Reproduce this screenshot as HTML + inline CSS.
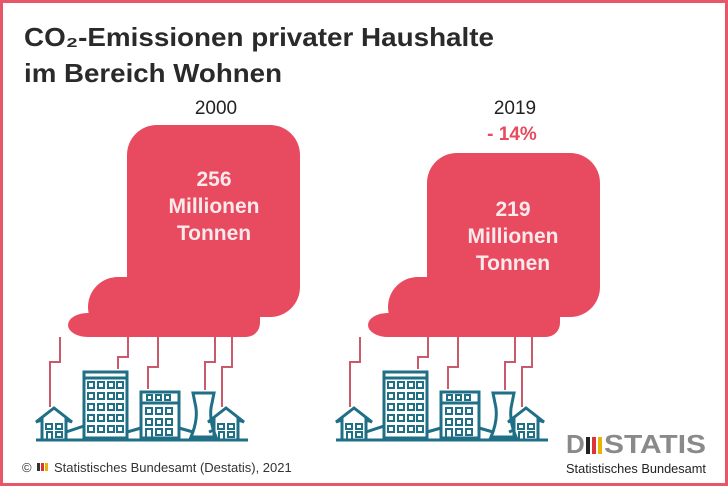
<!DOCTYPE html>
<html><head><meta charset="utf-8"><style>
body{margin:0;background:#fff}
#c{position:relative;width:728px;height:486px;overflow:hidden;font-family:"Liberation Sans",sans-serif}
svg{position:absolute;left:0;top:0}
</style></head><body><div id="c">
<svg width="728" height="486" viewBox="0 0 728 486">
<rect x="1.5" y="1.5" width="725" height="483" fill="#fff" stroke="#e8566a" stroke-width="3"/>
<text x="24" y="46" font-size="26" font-weight="bold" fill="#2a2a2a" textLength="470" lengthAdjust="spacingAndGlyphs">CO₂-Emissionen privater Haushalte</text>
<text x="24" y="82" font-size="26" font-weight="bold" fill="#2a2a2a" textLength="258" lengthAdjust="spacingAndGlyphs">im Bereich Wohnen</text>
<defs>
<g id="city" fill="none" stroke="#1f6f86" stroke-width="3">
<rect x="84" y="372" width="43" height="66"/>
<line x1="84" y1="378" x2="127" y2="378"/>
<rect x="141" y="392" width="38" height="46"/>
<rect x="141" y="392" width="38" height="11"/>
<path d="M193 393 h21 l-2 10 q-4 15 4 34 h-25 q8-19 4-34z"/>
<path d="M42 440 v-20 l-6 2 l18-14 l18 14 l-6-2 v20 M214 440 v-20 l-6 2 l18-14 l18 14 l-6-2 v20"/>
<path d="M36 440 h212 M66 432 l18-6 M127 432 l14 -4 M179 428 l14 4 M214 430 l-5 2"/>
<g stroke-width="2">
<rect x="88" y="382" width="6" height="6"/><rect x="98" y="382" width="6" height="6"/><rect x="108" y="382" width="6" height="6"/><rect x="117" y="382" width="6" height="6"/>
<rect x="88" y="393" width="6" height="6"/><rect x="98" y="393" width="6" height="6"/><rect x="108" y="393" width="6" height="6"/><rect x="117" y="393" width="6" height="6"/>
<rect x="88" y="404" width="6" height="6"/><rect x="98" y="404" width="6" height="6"/><rect x="108" y="404" width="6" height="6"/><rect x="117" y="404" width="6" height="6"/>
<rect x="88" y="415" width="6" height="6"/><rect x="98" y="415" width="6" height="6"/><rect x="108" y="415" width="6" height="6"/><rect x="117" y="415" width="6" height="6"/>
<rect x="88" y="426" width="6" height="6"/><rect x="98" y="426" width="6" height="6"/><rect x="108" y="426" width="6" height="6"/><rect x="117" y="426" width="6" height="6"/>
<rect x="147" y="395" width="5" height="5"/><rect x="156" y="395" width="5" height="5"/><rect x="165" y="395" width="5" height="5"/>
<rect x="146" y="408" width="6" height="6"/><rect x="156" y="408" width="6" height="6"/><rect x="166" y="408" width="6" height="6"/>
<rect x="146" y="419" width="6" height="6"/><rect x="156" y="419" width="6" height="6"/><rect x="166" y="419" width="6" height="6"/>
<rect x="146" y="429" width="6" height="9"/><rect x="156" y="429" width="6" height="6"/><rect x="166" y="429" width="6" height="6"/>
<rect x="46" y="424" width="6" height="5"/><rect x="56" y="424" width="6" height="5"/><rect x="47" y="432" width="5" height="8"/><rect x="56" y="432" width="6" height="5"/>
<rect x="218" y="424" width="6" height="5"/><rect x="228" y="424" width="6" height="5"/><rect x="219" y="432" width="5" height="8"/><rect x="228" y="432" width="6" height="5"/>
</g>
</g>
<g id="pipes" fill="none" stroke="#c85a6b" stroke-width="2">
<path d="M60 337 v25 h-10 v45"/>
<path d="M128 337 v20 h-10 v12"/>
<path d="M158 337 v30 h-10 v22"/>
<path d="M215 337 v25 h-10 v28"/>
<path d="M232 337 v30 h-10 v40"/>
</g>
</defs>
<g fill="#e84a5f">
<rect x="127" y="125" width="173" height="192" rx="30"/>
<rect x="88" y="277" width="150" height="60" rx="30"/>
<rect x="68" y="313" width="80" height="24" rx="20"/>
<rect x="110" y="295" width="150" height="42" rx="14"/>
</g>
<use href="#pipes"/><use href="#city"/>
<g fill="#e84a5f">
<rect x="427" y="153" width="173" height="164" rx="30"/>
<rect x="388" y="277" width="150" height="60" rx="30"/>
<rect x="368" y="313" width="80" height="24" rx="20"/>
<rect x="410" y="295" width="150" height="42" rx="14"/>
</g>
<use href="#pipes" transform="translate(300,0)"/><use href="#city" transform="translate(300,0)"/>
<text x="216" y="114" font-size="19" fill="#222" text-anchor="middle">2000</text>
<text x="515" y="114" font-size="19" fill="#222" text-anchor="middle">2019</text>
<text x="512" y="140" font-size="19" font-weight="bold" fill="#e84a5f" text-anchor="middle">- 14%</text>
<g fill="#fbe9ec" font-size="21" font-weight="bold" text-anchor="middle">
<text x="214" y="186">256</text><text x="214" y="213">Millionen</text><text x="214" y="240">Tonnen</text>
<text x="513" y="216">219</text><text x="513" y="243">Millionen</text><text x="513" y="270">Tonnen</text>
</g>
<text x="22" y="472" font-size="13" fill="#333">©</text>
<rect x="37" y="463" width="3" height="8" fill="#333"/><rect x="41" y="463" width="3" height="8" fill="#d33"/><rect x="45" y="463" width="3" height="8" fill="#e8b400"/>
<text x="54" y="472" font-size="13" fill="#333">Statistisches Bundesamt (Destatis), 2021</text>
<text x="566" y="453" font-size="26" font-weight="bold" fill="#8a8a8a">D</text>
<rect x="586" y="437" width="4" height="17" fill="#222"/><rect x="592" y="437" width="4" height="17" fill="#d33"/><rect x="598" y="437" width="4" height="17" fill="#e8b400"/>
<text x="604" y="453" font-size="26" font-weight="bold" fill="#8a8a8a" textLength="102" lengthAdjust="spacingAndGlyphs">STATIS</text>
<text x="566" y="473" font-size="13" fill="#222" textLength="140" lengthAdjust="spacingAndGlyphs">Statistisches Bundesamt</text>
</svg>
</div></body></html>
